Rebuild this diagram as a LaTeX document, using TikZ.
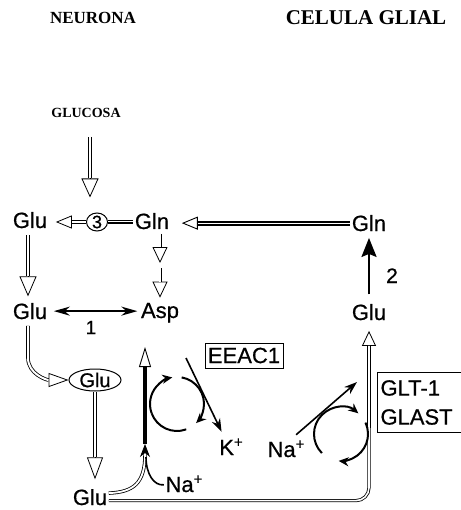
\documentclass[tikz,border=0pt]{standalone}
\usepackage{fontspec}
\usetikzlibrary{arrows.meta,shapes.geometric}
\newfontfamily\lsans{Liberation Sans}[FakeBold=0.6]
\newfontfamily\lserif{Liberation Serif}
\newcommand\ionplus{\raisebox{0.36em}{\fontsize{15}{15}\selectfont +}}
\begin{document}
\begin{tikzpicture}[x=1pt,y=-1pt,
  lab/.style={font=\lsans\fontsize{22}{26}\selectfont, inner sep=1.5pt, anchor=base},
  ttl/.style={font=\lserif\bfseries\fontsize{#1}{#1}\selectfont, inner sep=1pt},
  num/.style={font=\lsans\fontsize{#1}{#1}\selectfont, inner sep=1pt, anchor=base},
  threec/.style={ellipse, draw, line width=1pt, inner sep=0pt, minimum width=21pt, minimum height=17pt, font=\lsans\fontsize{18}{18}\selectfont},
  ovl/.style={ellipse, draw, line width=1pt, inner sep=0pt, minimum width=52pt, minimum height=22pt, font=\lsans\fontsize{20}{20}\selectfont},
  boxa/.style={draw, line width=1pt, font=\lsans\fontsize{22}{26}\selectfont, minimum width=78pt, minimum height=25pt, inner sep=0pt},
  boxb/.style={draw, line width=1pt, font=\lsans\fontsize{22}{29}\selectfont, align=left, text width=95pt, inner xsep=3pt, inner ysep=0pt, minimum height=60pt, anchor=north west},
  hol/.style n args={3}{line width=0.8pt, -{Triangle[open,length=#1pt,width=#2pt]},
     postaction={draw,-,double=white,double distance=#3pt,line width=0.8pt,shorten >=#1pt}},
  holdark/.style={line width=0.9pt, -{Triangle[open,length=16pt,width=13pt]},
     postaction={draw,-,double=white,double distance=1pt,line width=1.9pt,shorten >=16pt}},
  dbl/.style={draw,double=white,double distance=1pt,line width=1.5pt},
  dblst/.style={line width=0.8pt, -{Stealth[length=13pt,width=10pt]},
     postaction={draw,-,double=white,double distance=1.8pt,line width=0.8pt,shorten >=10pt}},
  mem/.style={line width=0.9pt, -{Triangle[open,length=20pt,width=12pt]},
     postaction={draw,-,line width=3.4pt,shorten >=20pt}},
  dbar/.style={line width=2pt, {Stealth[length=16pt,width=9pt]}-{Stealth[length=16pt,width=9pt]}},
  solarrow/.style={line width=2.4pt, -{Stealth[length=19pt,width=15pt,inset=3pt]}},
  solthin/.style={line width=1.6pt, -{Stealth[length=13pt,width=9pt]}},
  cyc/.style={line width=2pt, -{Stealth[length=10pt,width=9pt]}},
  cycline/.style={line width=2pt}
]
\useasboundingbox[fill=white] (0,0) rectangle (460,510);

% titles
\node[ttl=17] (neur) at (93,17.5) {NEURONA};
\node[ttl=21] (glia) at (366,18) {CELULA GLIAL};
\node[ttl=14] (gluc) at (86,113) {GLUCOSA};

% metabolite labels
\node[lab] (glu1) at (30,228) {Glu};
\node[threec] (three) at (97,222) {3};
\node[lab] (gln1) at (152,229) {Gln};
\node[lab] (gln2) at (369,231) {Gln};
\node[lab] (glu2) at (30,319) {Glu};
\node[lab] (asp) at (160,318) {Asp};
\node[lab] (glu3) at (369,320) {Glu};
\node[ovl] (glu5) at (95,380) {Glu};
\node[lab] (glu4) at (90,505) {Glu};
\node[lab] (na1) at (184,492) {Na\ionplus};
\node[lab] (na2) at (286,457) {Na\ionplus};
\node[lab] (kp) at (231,455) {K\ionplus};
\node[num=19] (n1) at (91,334) {1};
\node[num=21] (n2) at (392,283) {2};
\node[boxa] (eeac) at (244,355.5) {EEAC1};
\node[boxb] (glt) at (377,372) {GLT-1\\GLAST};

% coordinates for free ends
\coordinate (mid) at (160,265.5);
\coordinate (t1bot) at (145,444);
\coordinate (t1top) at (145,347);
\coordinate (najoin) at (146,457);
\coordinate (m2a) at (369,346);
\coordinate (m2b) at (369,428);
\coordinate (cyc1) at (177,404);
\coordinate (cyc2) at (341,434);
\coordinate (ks) at (186,358);
\coordinate (nat) at (357,382);

% neuron metabolism
\draw[hol={19}{17}{2.6}] ([xshift=4pt,yshift=-18pt]gluc.south) -- ([xshift=-7pt,yshift=15pt]three.north);
\draw[hol={16}{13}{1.6}] (three.west) -- ([xshift=7pt]three.west -| glu1.east);
\draw[dbl] (three.east) -- (three.east -| gln1.west);
\draw[holdark] (gln2.west) -- ([xshift=11pt]gln2.west -| gln1.east);
\draw[hol={16}{15}{1.4}] ([xshift=8pt,yshift=-3pt]gln1.south) -- ([yshift=2.5pt]mid);
\draw[hol={16}{15}{1.4}] ([yshift=-2.5pt]mid) -- ([yshift=3.5pt]asp.north);
\draw[hol={20}{17}{2.2}] ([xshift=-2pt,yshift=-5pt]glu1.south) -- ([xshift=-2pt,yshift=5pt]glu2.north);
\draw[dbar] ([xshift=5pt]glu2.east) -- ([xshift=-2pt]glu2.east -| asp.west);
\draw[solarrow] ([yshift=8pt]glu3.north) -- ([yshift=-5pt]gln2.south);

% glutamate release and uptake
\draw[hol={20}{14}{2}] ([xshift=-2pt,yshift=-5pt]glu2.south) -- ++(0,32) .. controls +(0,16) and +(-22,0) .. (glu5.west);
\draw[hol={22}{16}{2}] (glu5.south) -- ([yshift=8pt]glu5.south |- glu4.north);
\draw[dblst] ([yshift=4pt]glu4.east) .. controls (133,492) and (145,484) .. (t1bot);
\draw[mem] (t1bot) -- (t1top);
\draw[line width=1.6pt] ([yshift=-1pt]na1.west) .. controls (154,486) and (146,474) .. (najoin);
\draw[hol={15}{14}{1.6}, rounded corners=13pt] ([yshift=-3.5pt]glu4.east) -| ([yshift=-9pt]glu3.south);
\draw[line width=4.2pt] (m2a) -- (m2b);
\draw[white,line width=1.2pt] (m2a) -- (m2b);

% transporter cycles
\draw[cyc] (cyc1) ++(-200:27) arc[start angle=-200,end angle=-100,radius=27];
\draw[cyc] (cyc1) ++(-80:27) arc[start angle=-80,end angle=45,radius=27];
\draw[cycline] (cyc1) ++(70:27) arc[start angle=70,end angle=160,radius=27];
\draw[cyc] (cyc2) ++(-225:27) arc[start angle=-225,end angle=-50,radius=27];
\draw[cyc] (cyc2) ++(-25:27) arc[start angle=-25,end angle=95,radius=27];

% ion arrows
\draw[solthin] (ks) -- ([xshift=4pt,yshift=5pt]kp.north west);
\draw[solthin] ([xshift=-10pt,yshift=4pt]na2.north east) -- (nat);
\end{tikzpicture}
\end{document}
